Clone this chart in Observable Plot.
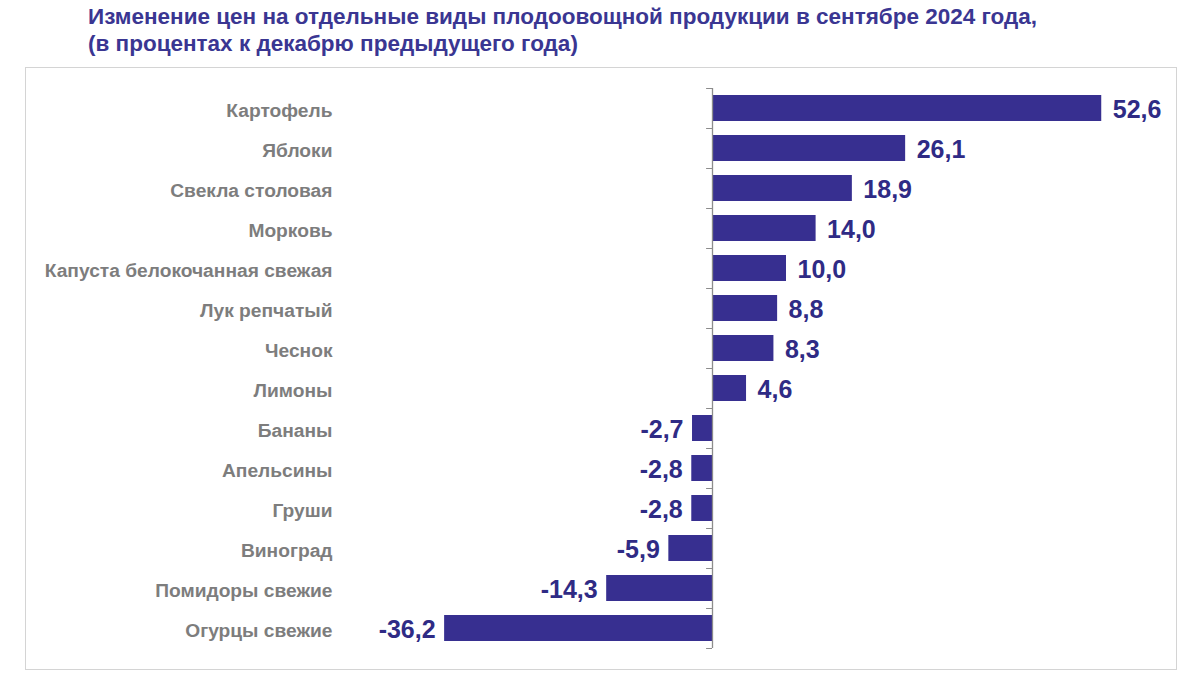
<!DOCTYPE html>
<html>
<head>
<meta charset="utf-8">
<script src="https://cdn.jsdelivr.net/npm/d3@7"></script>
<script src="https://cdn.jsdelivr.net/npm/@observablehq/plot@0.6"></script>
<style>
  html, body { margin: 0; padding: 0; background: #fff; }
  body { width: 1200px; height: 676px; position: relative; font-family: "Liberation Sans", Arial, sans-serif; }
  #title { position: absolute; left: 88px; top: 3px; font-weight: bold; font-size: 22.5px; line-height: 27px; color: #3a3692; }
  #box { position: absolute; left: 25px; top: 67px; width: 1152px; height: 603px; border: 1px solid #d4d4d4; box-sizing: border-box; }
  #box svg { display: block; }
</style>
</head>
<body>
<div id="title">Изменение цен на отдельные виды плодоовощной продукции в сентябре 2024 года,<br>(в процентах к декабрю предыдущего года)</div>
<div id="box"></div>
<script>
const categories = [
  "Картофель",
  "Яблоки",
  "Свекла столовая",
  "Морковь",
  "Капуста белокочанная свежая",
  "Лук репчатый",
  "Чеснок",
  "Лимоны",
  "Бананы",
  "Апельсины",
  "Груши",
  "Виноград",
  "Помидоры свежие",
  "Огурцы свежие"
];
const values = [52.6, 26.1, 18.9, 14.0, 10.0, 8.8, 8.3, 4.6, -2.7, -2.8, -2.8, -5.9, -14.3, -36.2];

const data = categories.map((c, i) => ({category: c, value: values[i]}));
const fmt = v => v.toFixed(1).replace(".", ",");
const barColor = "#372f90";
const labelColor = "#2f2b85";

const chart = Plot.plot({
  width: 1150,
  height: 601,
  marginLeft: 390,
  marginRight: 20,
  marginTop: 20,
  marginBottom: 21,
  style: {fontFamily: "'Liberation Sans', Arial, sans-serif", background: "transparent"},
  x: {domain: [-40, 60], axis: null},
  y: {domain: categories, paddingInner: 0.35, paddingOuter: 0.175, label: null},
  marks: [
    Plot.barX(data, {x: "value", y: "category", fill: barColor}),
    Plot.ruleX([0], {stroke: "#8c8c8c", strokeWidth: 1.3}),
    Plot.ruleY(categories, {y: d => d, dy: -20, x1: -0.8, x2: 0, stroke: "#8c8c8c"}),
    Plot.ruleY(categories.slice(-1), {y: d => d, dy: 20, x1: -0.8, x2: 0, stroke: "#8c8c8c"}),
    Plot.axisY({tickSize: 0, tickPadding: 84, dy: 2, fontSize: 19.2, fontWeight: "bold", fill: "#7d7d7d", label: null}),
    Plot.text(data.filter(d => d.value >= 0), {
      x: "value", y: "category",
      text: d => fmt(d.value),
      textAnchor: "start", dx: 11, dy: 1,
      fontSize: 25, fontWeight: "bold", fill: labelColor
    }),
    Plot.text(data.filter(d => d.value < 0), {
      x: "value", y: "category",
      text: d => fmt(d.value),
      textAnchor: "end", dx: -9, dy: 1,
      fontSize: 25, fontWeight: "bold", fill: labelColor
    })
  ]
});
document.getElementById("box").appendChild(chart);
</script>
</body>
</html>
